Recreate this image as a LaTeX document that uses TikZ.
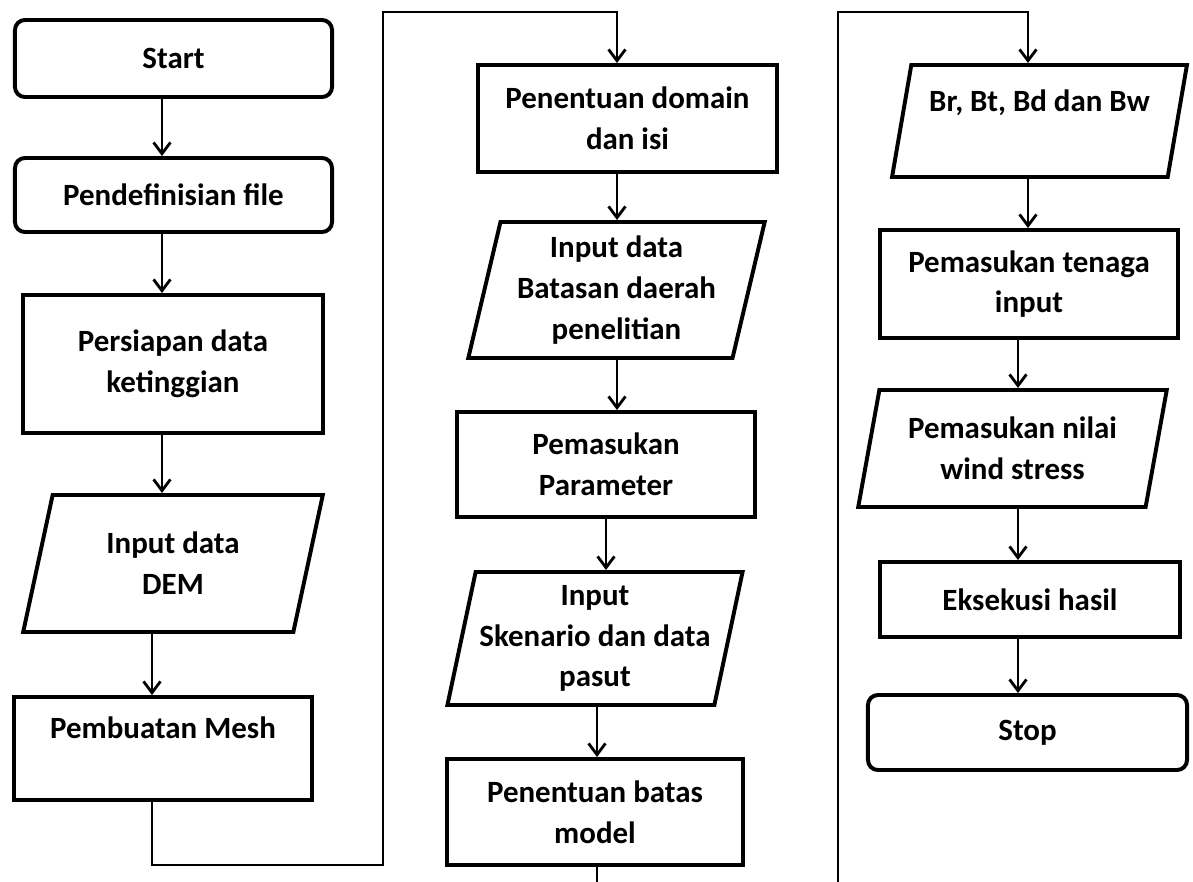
\documentclass[tikz,border=0pt]{standalone}
\usepackage{fontspec}
\setmainfont{Carlito}
\usetikzlibrary{arrows.meta,shapes.geometric}

\tikzset{
  box/.style={draw, line width=2.8pt, align=center, inner sep=2pt,
    font=\bfseries\fontsize{22}{29}\selectfont},
  term/.style={box, rounded corners=0.25cm},
  io/.style={box, trapezium, trapezium left angle=76, trapezium right angle=104,
    trapezium stretches=true},
  wire/.style={line width=2pt},
  arr/.style={wire, -{Straight Barb[length=8pt,width=12pt]}}
}

\begin{document}
\begin{tikzpicture}[x=0.025cm, y=-0.025cm]
			\useasboundingbox (0,0) rectangle (1193,882);

			% first column
			\node[term, minimum width=7.925cm, minimum height=1.925cm] (start) at (173.5, 58.5) {Start};
			\node[term, minimum width=7.925cm, minimum height=1.85cm] (def) at (173.5, 195) {Pendefinisian file};
			\node[box, minimum width=7.5cm, minimum height=3.45cm] (prep) at (173, 364) {Persiapan data\\ketinggian};
			\node[io, minimum width=7.5cm, minimum height=3.425cm] (dem) at (173, 563.5) {Input data\\DEM};
			\node[box, minimum width=7.45cm, minimum height=2.575cm] (mesh) at (163, 748.5) {Pembuatan Mesh\\\mbox{}};

			% second column
			\node[box, minimum width=7.475cm, minimum height=2.675cm] (dom) at (627.5, 118.5) {Penentuan domain\\dan isi};
			\node[io, minimum width=7.425cm, minimum height=3.4cm] (bat) at (616.5, 290) {Input data\\Batasan daerah\\penelitian};
			\node[box, minimum width=7.45cm, minimum height=2.625cm] (par) at (606, 464.5) {Pemasukan\\Parameter};
			\node[io, minimum width=7.4cm, minimum height=3.325cm] (sken) at (595, 638.5) {Input\\Skenario dan data\\pasut};
			\node[box, minimum width=7.4cm, minimum height=2.65cm] (model) at (595, 812) {Penentuan batas\\model};

			% third column
			\node[io, minimum width=7.375cm, minimum height=2.8cm] (br) at (1039.5, 121) {Br, Bt, Bd dan Bw\\\mbox{}};
			\node[box, minimum width=7.45cm, minimum height=2.7cm] (ten) at (1029, 284) {Pemasukan tenaga\\input};
			\node[io, minimum width=7.725cm, minimum height=2.925cm] (wind) at (1012.5, 448.5) {Pemasukan nilai\\wind stress};
			\node[box, minimum width=7.5cm, minimum height=1.875cm] (eks) at (1030, 599.5) {Eksekusi hasil};
			\node[term, minimum width=7.975cm, minimum height=1.875cm] (stop) at (1027.5, 732.5) {Stop};

			\coordinate (b1) at (383, 865);
			\coordinate (t1) at (383, 12);
			\coordinate (cut2) at (597, 882);
			\coordinate (cut3) at (838, 882);
			\coordinate (t2) at (838, 12);

			\def\list {start/def/162, def/prep/162, prep/dem/162, dem/mesh/152, dom/bat/617, bat/par/617,
				par/sken/606, sken/model/597, br/ten/1028, ten/wind/1018, wind/eks/1018, eks/stop/1018}  % x of each arrow
			\foreach \u/\v/\x in \list
			{	\draw[arr] (\u.south -| \x,0) -- (\v.north -| \x,0);}

			% links between the columns
			\draw[arr] (mesh.south -| 152,0) |- (b1) -- (t1) -| (dom.north -| 617,0);
			\draw[wire] (model.south -| 597,0) -- (cut2);
			\draw[arr] (cut3) -- (t2) -| (br.north -| 1028,0);
		\end{tikzpicture}
\end{document}
